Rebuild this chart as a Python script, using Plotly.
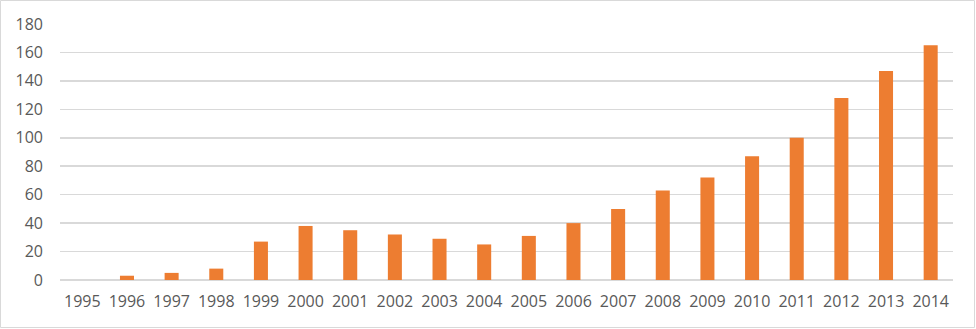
import plotly.graph_objects as go

years = [str(y) for y in range(1995, 2015)]
values = [0, 3, 5, 8, 27, 38, 35, 32, 29, 25, 31, 40, 50, 63, 72, 87, 100, 128, 147, 165]
y_ticks = [0, 20, 40, 60, 80, 100, 120, 140, 160, 180]

W, H = 976, 329
ml, mr, mt, mb = 60, 23, 24, 49
pw, ph = W - ml - mr, H - mt - mb

fig = go.Figure(go.Bar(x=years, y=values, marker_color="#ED7D31", marker_line_width=0,
                       hoverinfo="skip"))

fig.update_layout(
    width=W, height=H,
    margin=dict(l=ml, r=mr, t=mt, b=mb, pad=0),
    paper_bgcolor="white", plot_bgcolor="white",
    bargap=0.686,
    showlegend=False,
    font=dict(family="Open Sans", size=16, color="#595959"),
    shapes=[dict(type="rect", xref="paper", yref="paper",
                 x0=(0.5 - ml) / pw, x1=1 + (mr - 1.5) / pw,
                 y0=-(mb - 1.5) / ph, y1=1 + (mt - 0.5) / ph,
                 line=dict(color="#d9d9d9", width=1), fillcolor="rgba(0,0,0,0)", layer="below")],
)
fig.update_xaxes(type="category", showgrid=False, showline=False, zeroline=False,
                 ticks="", ticklabelstandoff=10, tickfont=dict(size=16, color="#595959"))
fig.update_yaxes(range=[0, 180], tickvals=y_ticks, showgrid=True, gridcolor="#d9d9d9", gridwidth=1.5,
                 zeroline=True, zerolinecolor="#d9d9d9", zerolinewidth=1.5, showline=False,
                 ticks="", ticklabelstandoff=16, tickfont=dict(size=16, color="#595959"))

fig.write_html("out.html", config={"displayModeBar": False, "staticPlot": True},
               post_script="document.body.style.margin='0';document.body.style.overflow='hidden';")
